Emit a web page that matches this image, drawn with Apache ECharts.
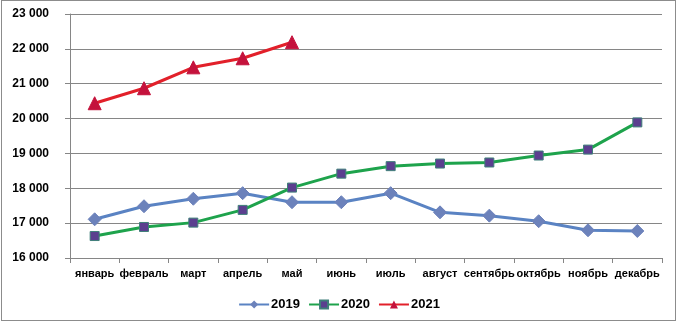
<!DOCTYPE html>
<html>
<head>
<meta charset="utf-8">
<script src="https://cdn.jsdelivr.net/npm/echarts@6/dist/echarts.min.js"></script>
<style>
html,body{margin:0;padding:0;background:#fff;}
#frame{position:absolute;left:1px;top:0;width:673px;height:319px;border:1px solid #8c8c8c;box-sizing:content-box;}
#chart{position:absolute;left:0;top:0;width:678px;height:322px;}
</style>
</head>
<body>
<div id="frame"></div>
<div id="chart"></div>
<script>
const months = ['январь','февраль','март','апрель','май','июнь','июль','август','сентябрь','октябрь','ноябрь','декабрь'];
const values2019 = [17110, 17485, 17700, 17860, 17600, 17600, 17860, 17310, 17215, 17055, 16795, 16775];
const values2020 = [16630, 16890, 17015, 17380, 18020, 18420, 18635, 18710, 18740, 18940, 19110, 19890];
const values2021 = [20440, 20870, 21470, 21730, 22190];
const yTicks = { min: 16000, max: 23000, step: 1000 };

const fmt = v => String(v).replace(/\B(?=(\d{3})+(?!\d))/g, ' ');
const font = '"Liberation Sans", Arial, sans-serif';

const chart = echarts.init(document.getElementById('chart'), null, { renderer: 'canvas' });
chart.setOption({
  animation: false,
  backgroundColor: 'transparent',
  grid: { left: 70, right: 16, top: 14, bottom: 64 },
  legend: {
    top: 293,
    left: 'center',
    itemWidth: 30,
    itemHeight: 10,
    itemGap: 8,
    textStyle: { fontFamily: font, fontSize: 13, fontWeight: 'bold', color: '#000', padding: [0, 0, 0, -3] },
    data: ['2019', '2020', '2021']
  },
  xAxis: {
    type: 'category',
    data: months,
    boundaryGap: true,
    axisLine: { lineStyle: { color: '#868686', width: 1 } },
    axisTick: { show: true, length: 5, lineStyle: { color: '#868686' } },
    axisLabel: { fontFamily: font, fontSize: 11, fontWeight: 'bold', color: '#000', margin: 10, interval: 0 }
  },
  yAxis: {
    type: 'value',
    min: yTicks.min,
    max: yTicks.max,
    interval: yTicks.step,
    axisLine: { show: true, lineStyle: { color: '#868686' } },
    axisTick: { show: true, length: 5, lineStyle: { color: '#868686' } },
    splitLine: { lineStyle: { color: '#868686', width: 1 } },
    axisLabel: { fontFamily: font, fontSize: 12, fontWeight: 'bold', color: '#000', margin: 21, formatter: fmt }
  },
  series: [
    {
      name: '2019', type: 'line', data: values2019,
      symbol: 'diamond', symbolSize: 13,
      lineStyle: { color: '#5a83c3', width: 3 },
      itemStyle: { color: '#6c82bb', borderColor: '#6c82bb' }
    },
    {
      name: '2020', type: 'line', data: values2020,
      symbol: 'rect', symbolSize: 9,
      lineStyle: { color: '#1ea34c', width: 3 },
      itemStyle: { color: '#5b3f8f', borderColor: '#3f7f7a', borderWidth: 1 }
    },
    {
      name: '2021', type: 'line', data: values2021,
      symbol: 'triangle', symbolSize: 13,
      lineStyle: { color: '#e2202a', width: 3 },
      itemStyle: { color: '#c4123c', borderColor: '#c4123c' }
    }
  ]
});
</script>
</body>
</html>
